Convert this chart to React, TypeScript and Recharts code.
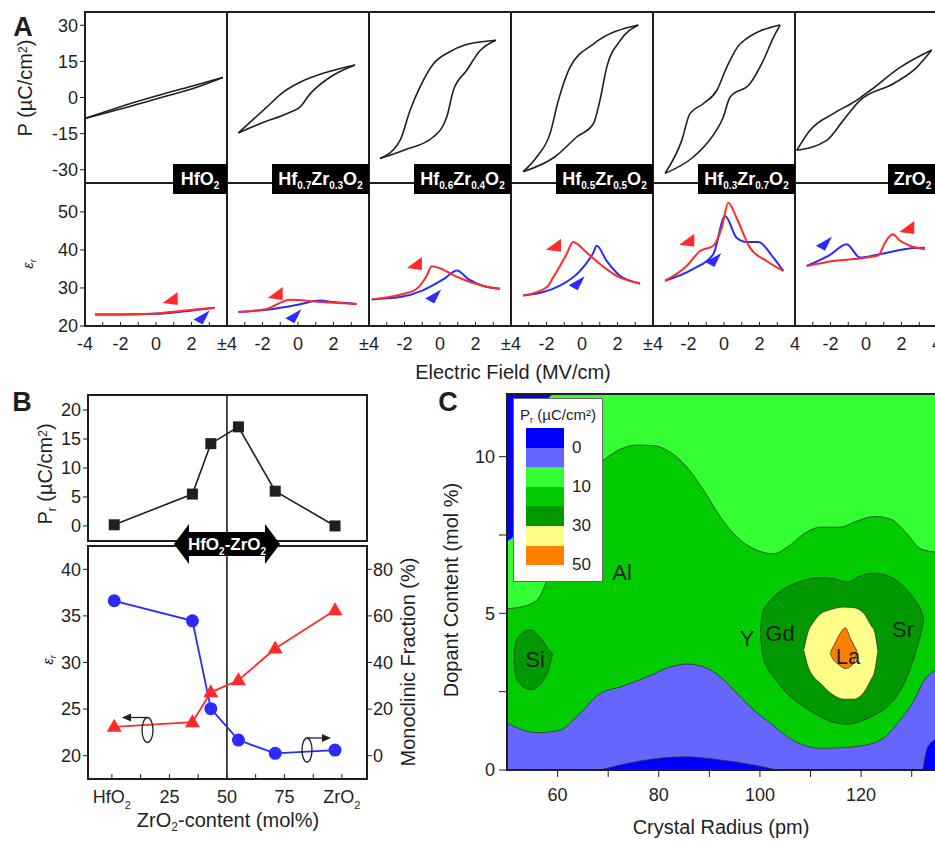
import React from "react";
import {
  LineChart,
  ComposedChart,
  Line,
  Area,
  Scatter,
  XAxis,
  YAxis,
  ReferenceLine,
} from "recharts";

document.body.style.margin = "0";

type Pt = [number, number];
type Band = [number, number, number];

const FONT = '"Liberation Sans", Arial, Helvetica, sans-serif';
const INK = "#1f1f1f";
const RED = "#ff2a2a";
const BLUE = "#2b2bff";

// ---- A, top: P-E loops, [E (MV/cm), P (µC/cm²)], both branches in rising E
const hfo2Up: Pt[] = [[-4, -8.7], [-2, -3.8], [0, 0.6], [2, 4.7], [3.77, 8.3]];
const hfo2Dn: Pt[] = [[-4, -8.7], [-2, -4.8], [0, -0.6], [2, 3.5], [3.77, 8.3]];
const hz73Up: Pt[] = [[-3.36, -14.7], [-1.76, -4.0], [-0.83, 2.2], [0.11, 6.3], [1.61, 10.5], [3.21, 13.5]];
const hz73Dn: Pt[] = [[-3.36, -14.7], [-2.14, -10.9], [-0.45, -6.1], [0.11, -4.0], [0.68, 1.5], [1.8, 8.4], [3.21, 13.5]];
const hz64Up: Pt[] = [[-3.38, -25.3], [-2.25, -17.8], [-1.69, -5.4], [-1.13, 4.3], [-0.38, 13.9], [0.5, 18.8], [1.4, 21.8], [3.15, 23.8]];
const hz64Dn: Pt[] = [[-3.38, -25.3], [-2.0, -21.8], [-0.38, -16.4], [0.38, -8.1], [0.75, 2.9], [1.5, 11.2], [2.25, 19.4], [3.15, 23.8]];
const hz55Up: Pt[] = [[-3.31, -30.8], [-2.55, -24.7], [-1.8, -15], [-1.33, -1.2], [-0.68, 12.5], [0.64, 22.2], [3.17, 30.1]];
const hz55Dn: Pt[] = [[-3.31, -30.8], [-1.5, -24.5], [-0.3, -16.4], [0.64, -10.9], [1.01, -1.2], [1.39, 12.5], [2.14, 23.5], [3.17, 30.1]];
const hz37Up: Pt[] = [[-3.32, -31.5], [-2.38, -17.8], [-1.92, -6.7], [-1.17, -2.6], [-0.41, 2.9], [0.15, 12.5], [0.9, 22.2], [3.16, 30.1]];
const hz37Dn: Pt[] = [[-3.32, -31.5], [-1.73, -24.7], [-0.97, -19.1], [-0.04, -8.1], [0.34, 0.1], [1.46, 5.7], [2.21, 15.3], [2.78, 24.9], [3.16, 30.1]];
const zro2Up: Pt[] = [[-3.9, -21.9], [-3.15, -13.6], [-1.84, -6.7], [-0.6, -1.5], [0.23, 2.9], [1.92, 12.5], [3.7, 19.7]];
const zro2Dn: Pt[] = [[-3.9, -21.9], [-2.21, -17.8], [-1.28, -9.5], [-0.34, -1.2], [1.54, 5.7], [2.86, 12.5], [3.7, 19.7]];

// ---- A, bottom: permittivity sweeps, [E, eps_r]
const hfo2Red: Pt[] = [[-3.44, 23.0], [-2, 23.0], [0, 23.3], [1.5, 24.0], [3.3, 24.8]];
const hfo2Blue: Pt[] = [[-3.44, 23.0], [-2, 23.0], [0, 23.2], [1.5, 23.8], [3.3, 24.8]];
const hz73Red: Pt[] = [[-3.36, 23.7], [-1.76, 24.5], [-0.45, 26.9], [1.05, 26.4], [3.3, 25.8]];
const hz73Blue: Pt[] = [[-3.36, 23.7], [-1.39, 24.5], [0, 25.6], [1.24, 26.7], [2.0, 26.3], [3.3, 25.8]];
const hz64Red: Pt[] = [[-3.85, 27.0], [-2.25, 28.2], [-1.31, 29.8], [-0.75, 33.2], [-0.47, 35.7], [0, 35.2], [0.75, 33.4], [1.5, 31.9], [2.4, 30.6], [3.38, 29.8]];
const hz64Blue: Pt[] = [[-3.85, 27.0], [-2.25, 27.6], [-1.0, 29.3], [0.2, 32.3], [0.96, 34.6], [1.6, 32.3], [2.4, 30.6], [3.38, 29.8]];
const hz55Red: Pt[] = [[-3.31, 28.0], [-1.99, 30.2], [-1.62, 32.8], [-0.87, 38.9], [-0.5, 42.1], [0.26, 39.3], [1.01, 36.3], [1.95, 33.2], [3.27, 31.2]];
const hz55Blue: Pt[] = [[-3.31, 28.0], [-1.24, 30.6], [-0.11, 34.5], [0.64, 39.3], [0.83, 41.1], [1.39, 37.1], [2.14, 33.2], [3.27, 31.2]];
const hz37Red: Pt[] = [[-3.32, 31.9], [-2.1, 35.8], [-1.35, 39.7], [-0.6, 41.1], [-0.13, 45.8], [0.24, 52.4], [0.71, 48.4], [1.46, 40.6], [2.4, 37.1], [3.34, 34.5]];
const hz37Blue: Pt[] = [[-3.32, 31.9], [-1.73, 35.0], [-0.6, 38.9], [0.06, 48.9], [0.71, 43.2], [1.27, 42.1], [1.93, 42.1], [2.78, 38.0], [3.34, 34.5]];
const zro2Red: Pt[] = [[-3.34, 35.8], [-1.84, 37.1], [0.04, 38.0], [0.7, 38.6], [1.07, 41.9], [1.5, 44.1], [1.92, 42.4], [2.48, 41.1], [3.32, 40.2]];
const zro2Blue: Pt[] = [[-3.34, 35.8], [-2.03, 38.7], [-1.09, 41.5], [-0.34, 38.0], [0.79, 38.9], [2.66, 40.5], [3.32, 40.6]];

// sweep-direction arrowheads, one per column
const redArrows: Pt[] = [[0.88, 27.1], [-1.2, 28.4], [-1.36, 36.3], [-1.52, 41.1], [-2.01, 42.4], [2.38, 45.8]];
const blueArrows: Pt[] = [[2.57, 22.5], [-0.26, 22.8], [-0.38, 28.0], [-0.3, 31.5], [-0.6, 37.6], [-2.37, 41.9]];

const E_TOP_TICKS = [-3, -2, -1, 0, 1, 2, 3];
const E_TICKS = [-4, -3, -2, -1, 0, 1, 2, 3, 4];
const E_END = ["±4", "±4", "±4", "±4", "4", "4"];
const P_TICKS = [-30, -15, 0, 15, 30];
const EPS_TICKS = [20, 30, 40, 50];

// ---- B: composition series
const COMP = [1, 35, 43, 55, 71, 97];
const PR = [0.2, 5.5, 14.2, 17.1, 6.0, 0];
const EPS_R = [23.1, 23.6, 26.8, 28.1, 31.5, 35.6];
const MONO = [66.5, 57.9, 20.2, 6.7, 1.0, 2.4];
const COMP_TICKS = [0, 12.5, 25, 37.5, 50, 62.5, 75, 87.5, 100];

// ---- C: contour map, [radius (pm), dopant mol%] or [radius, low, high]
const C_FIELD: Pt[] = [[50, 12], [135, 12]];
const C_GREEN: Pt[] = [
  [50, 5.15], [52.6, 5.2], [55.9, 5.42], [57.9, 6.05], [61, 7.6], [64, 8.9], [67, 9.6], [69.4, 9.93],
  [72.4, 10.24], [75.7, 10.37], [79, 10.35], [82.3, 10.14], [85.6, 9.66], [88.9, 8.92], [92.2, 8.07],
  [95.5, 7.43], [98.8, 7.06], [102.7, 6.9], [105.4, 7.11], [108.7, 7.54], [112, 7.75], [116, 7.75],
  [118.6, 7.91], [122.6, 8.09], [125.8, 8.01], [128.5, 7.64], [131.8, 7.06], [135, 6.95],
];
const C_VIOLET: Pt[] = [
  [50, 1.49], [55.9, 1.19], [60.5, 1.27], [63.8, 1.7], [68.4, 2.44], [72.4, 2.65], [77.7, 2.97],
  [82.3, 3.29], [85.6, 3.38], [88.9, 3.29], [92.2, 2.97], [95.5, 2.44], [98.8, 1.91], [102.1, 1.49],
  [105.4, 1.06], [108.7, 0.79], [112, 0.69], [118.6, 0.74], [123.9, 0.96], [127.2, 1.49], [130.5, 2.23],
  [132.5, 2.87], [135, 3.2],
];
const C_BLUE_FLOOR: Pt[] = [[68.4, 0], [75.7, 0.27], [85, 0.42], [92.2, 0.32], [98.8, 0.16], [103.4, 0]];
const C_BLUE_CORNER: Pt[] = [[132.2, 0], [133.2, 0.74], [135, 1.0]];
const C_BLUE_TOP: Band[] = [[50, 7.3, 12], [51.6, 7.55, 12], [52.5, 9.5, 12], [55, 11, 12], [59.1, 12, 12]];
const C_SI: Band[] = [
  [51.4, 3.55, 3.65], [51.7, 3.0, 4.05], [52.6, 2.75, 4.3], [53.5, 2.62, 4.43], [54.9, 2.57, 4.47],
  [56, 2.65, 4.32], [57.2, 2.87, 4.1], [58.2, 3.2, 3.85], [59, 3.7, 3.72],
];
const C_GD: Band[] = [
  [100.1, 4.3, 4.4], [100.5, 3.7, 5.0], [101.5, 3.25, 5.3], [102.7, 2.97, 5.52], [105.4, 2.44, 5.84],
  [108.7, 2.02, 6.05], [112, 1.7, 6.14], [114.6, 1.52, 6.1], [117.3, 1.46, 6.0], [119.9, 1.55, 6.2],
  [122.6, 1.75, 6.28], [125.2, 2.02, 6.2], [127.8, 2.55, 5.95], [130.5, 3.61, 5.45], [131.8, 4.35, 5.1],
  [132.4, 4.8, 4.82],
];
const C_YELLOW: Band[] = [
  [108.7, 3.8, 3.85], [109.5, 3.3, 4.4], [110.5, 3.0, 4.7], [112, 2.76, 4.99], [114, 2.45, 5.12],
  [116.6, 2.26, 5.2], [118.6, 2.26, 5.18], [120.6, 2.49, 4.99], [122, 2.9, 4.6], [122.6, 3.1, 4.45],
  [123.3, 3.77, 3.8],
];
const C_ORANGE: Band[] = [
  [113.9, 3.72, 3.75], [114.6, 3.5, 3.97], [115.3, 3.4, 4.2], [116.9, 3.24, 4.53], [117.9, 3.3, 4.19],
  [118.6, 3.45, 3.97], [119.2, 3.77, 3.8],
];
const C_X_TICKS = [60, 70, 80, 90, 100, 110, 120, 130];
const C_Y_TICKS = [0, 2.5, 5, 7.5, 10];
const LEGEND_COLORS = ["#0000ff", "#6666ff", "#33ff33", "#00cc00", "#009900", "#ffff88", "#ff8000"];
const LEGEND_MARKS: [string, number][] = [["0", 1], ["10", 3], ["30", 5], ["50", 7]];

const cols = [
  { up: hfo2Up, dn: hfo2Dn, red: hfo2Red, blue: hfo2Blue, name: [["HfO", "2"]], box: 54 },
  { up: hz73Up, dn: hz73Dn, red: hz73Red, blue: hz73Blue, name: [["Hf", "0.7"], ["Zr", "0.3"], ["O", "2"]], box: 97 },
  { up: hz64Up, dn: hz64Dn, red: hz64Red, blue: hz64Blue, name: [["Hf", "0.6"], ["Zr", "0.4"], ["O", "2"]], box: 97 },
  { up: hz55Up, dn: hz55Dn, red: hz55Red, blue: hz55Blue, name: [["Hf", "0.5"], ["Zr", "0.5"], ["O", "2"]], box: 97 },
  { up: hz37Up, dn: hz37Dn, red: hz37Red, blue: hz37Blue, name: [["Hf", "0.3"], ["Zr", "0.7"], ["O", "2"]], box: 97 },
  { up: zro2Up, dn: zro2Dn, red: zro2Red, blue: zro2Blue, name: [["ZrO", "2"]], box: 49 },
];

const COL_X = [85, 227, 369, 511, 653, 795, 937];
const COL_W = 142;
const NO_MARGIN = { top: 0, right: 0, bottom: 0, left: 0 };

const rows = (pts: Pt[]) => pts.map(([x, v]) => ({ x, v }));
const bands = (pts: Band[]) => pts.map(([x, lo, hi]) => ({ x, v: [lo, hi] }));
const series = (ys: number[]) => COMP.map((x, i) => ({ x, v: ys[i] }));

const tickFont = (size: number) => ({ fontSize: size, fill: INK });

const squareDot = (p: any) => (
  <rect key={`s${p.index}`} x={p.cx - 5.5} y={p.cy - 5.5} width={11} height={11} fill={INK} />
);
const triDot = (p: any) => (
  <polygon key={`t${p.index}`} points={`${p.cx},${p.cy - 8} ${p.cx - 7.5},${p.cy + 5} ${p.cx + 7.5},${p.cy + 5}`} fill={RED} />
);
const circDot = (p: any) => <circle key={`c${p.index}`} cx={p.cx} cy={p.cy} r={6.5} fill={BLUE} />;
const redHead = (p: any) => (
  <polygon points={`${p.cx - 9},${p.cy + 4} ${p.cx + 6},${p.cy - 7} ${p.cx + 6},${p.cy + 6}`} fill={RED} />
);
const blueHead = (p: any) => (
  <polygon points={`${p.cx + 8},${p.cy - 6} ${p.cx - 8},${p.cy + 3} ${p.cx + 1},${p.cy + 8}`} fill={BLUE} />
);

function LoopPanel({ i }: { i: number }) {
  const yw = i === 0 ? 45 : 0;
  return (
    <div style={{ position: "absolute", left: COL_X[i] - yw, top: 12 }}>
      <LineChart width={COL_W + yw} height={171} margin={NO_MARGIN}>
        <XAxis type="number" dataKey="x" domain={[-4, 4]} allowDataOverflow orientation="top" mirror
          ticks={E_TOP_TICKS} tick={false} axisLine={false} tickSize={4} stroke={INK} />
        <YAxis type="number" domain={[-35.5, 35.5]} allowDataOverflow ticks={P_TICKS} interval={0}
          hide={i !== 0} width={45} axisLine={false} tickSize={5} tickMargin={2} stroke={INK} tick={tickFont(18)} />
        <Line data={rows(cols[i].up)} dataKey="v" type="monotone" stroke={INK} strokeWidth={1.6} dot={false} isAnimationActive={false} />
        <Line data={rows(cols[i].dn)} dataKey="v" type="monotone" stroke={INK} strokeWidth={1.6} dot={false} isAnimationActive={false} />
      </LineChart>
    </div>
  );
}

function EpsPanel({ i }: { i: number }) {
  const yw = i === 0 ? 45 : 0;
  const pad = 16;
  const fmt = (v: number) =>
    v === -4 ? (i === 0 ? "-4" : "") : v === 4 ? E_END[i] : v % 2 === 0 ? String(v) : "";
  return (
    <div style={{ position: "absolute", left: COL_X[i] - yw - pad, top: 183 }}>
      <ComposedChart width={COL_W + yw + 2 * pad} height={173} margin={{ top: 0, right: pad, bottom: 0, left: pad }}>
        <XAxis type="number" dataKey="x" domain={[-4, 4]} allowDataOverflow ticks={E_TICKS} interval={0} height={30}
          tickFormatter={fmt} axisLine={false} tickSize={-4} tickMargin={15} stroke={INK} tick={tickFont(18)} />
        <YAxis type="number" domain={[20, 57.6]} allowDataOverflow ticks={EPS_TICKS} interval={0}
          hide={i !== 0} width={45} axisLine={false} tickSize={5} tickMargin={2} stroke={INK} tick={tickFont(18)} />
        <Line data={rows(cols[i].blue)} dataKey="v" type="monotone" stroke={BLUE} strokeWidth={2} dot={false} isAnimationActive={false} />
        <Line data={rows(cols[i].red)} dataKey="v" type="monotone" stroke={RED} strokeWidth={2} dot={false} isAnimationActive={false} />
        <Scatter data={rows([redArrows[i]])} dataKey="v" shape={redHead} isAnimationActive={false} />
        <Scatter data={rows([blueArrows[i]])} dataKey="v" shape={blueHead} isAnimationActive={false} />
      </ComposedChart>
    </div>
  );
}

function compTick(p: any) {
  const v = p.payload.value;
  const common = { x: p.x, y: p.y + 25, textAnchor: "middle" as const, fontSize: 18, fill: INK };
  if (v === 0 || v === 100) {
    return (
      <text {...common}>
        {v === 0 ? "HfO" : "ZrO"}
        <tspan dy={6} fontSize={11}>2</tspan>
      </text>
    );
  }
  if (v % 25 !== 0) return <g />;
  return <text {...common}>{v}</text>;
}

function PrPanel() {
  return (
    <div style={{ position: "absolute", left: 48, top: 395 }}>
      <LineChart width={319} height={146} margin={NO_MARGIN}>
        <XAxis type="number" dataKey="x" domain={[-10.4, 110.9]} allowDataOverflow orientation="top" mirror
          ticks={COMP_TICKS} tick={false} axisLine={false} tickSize={5} stroke={INK} />
        <YAxis type="number" domain={[-2.6, 22.6]} allowDataOverflow ticks={[0, 5, 10, 15, 20]} interval={0}
          width={40} axisLine={false} tickSize={5} tickMargin={2} stroke={INK} tick={tickFont(18)} />
        <ReferenceLine x={50} stroke={INK} strokeWidth={1.6} />
        <Line data={series(PR)} dataKey="v" type="linear" stroke={INK} strokeWidth={1.6} dot={squareDot} isAnimationActive={false} />
      </LineChart>
    </div>
  );
}

function EpsMonoPanel() {
  return (
    <div style={{ position: "absolute", left: 48, top: 546 }}>
      <ComposedChart width={359} height={273} margin={NO_MARGIN}>
        <XAxis type="number" dataKey="x" domain={[-10.4, 110.9]} allowDataOverflow ticks={COMP_TICKS} interval={0}
          height={40} tick={compTick} tickSize={-5} tickMargin={4} axisLine={false} stroke={INK} />
        <YAxis yAxisId="eps" type="number" domain={[17.5, 42.5]} allowDataOverflow ticks={[20, 25, 30, 35, 40]} interval={0}
          width={40} axisLine={false} tickSize={5} tickMargin={2} stroke={INK} tick={tickFont(18)} />
        <YAxis yAxisId="mono" orientation="right" type="number" domain={[-10, 90]} allowDataOverflow
          ticks={[0, 20, 40, 60, 80]} interval={0} width={40} axisLine={false} tickSize={5} tickMargin={1}
          stroke={INK} tick={tickFont(18)} />
        <ReferenceLine x={50} yAxisId="eps" stroke={INK} strokeWidth={1.6} />
        <Line yAxisId="mono" data={series(MONO)} dataKey="v" type="linear" stroke={BLUE} strokeWidth={1.8} dot={circDot} isAnimationActive={false} />
        <Line yAxisId="eps" data={series(EPS_R)} dataKey="v" type="linear" stroke={RED} strokeWidth={1.8} dot={triDot} isAnimationActive={false} />
      </ComposedChart>
    </div>
  );
}

function ContourPanel() {
  const edge = { stroke: "#333", strokeWidth: 0.8, fillOpacity: 1, isAnimationActive: false, type: "monotone" as const };
  return (
    <div style={{ position: "absolute", left: 467, top: 394 }}>
      <ComposedChart width={470} height={416} margin={NO_MARGIN}>
        <XAxis type="number" dataKey="x" domain={[50, 135]} allowDataOverflow ticks={C_X_TICKS} interval={0} height={40}
          tickFormatter={(v: number) => (v % 20 === 0 ? String(v) : "")} tickSize={7} tickMargin={11}
          axisLine={false} stroke={INK} tick={tickFont(18)} />
        <XAxis xAxisId="top" type="number" orientation="top" mirror domain={[50, 135]} allowDataOverflow
          ticks={C_X_TICKS} interval={0} tick={false} axisLine={false} tickSize={6} stroke={INK} />
        <YAxis type="number" domain={[0, 12]} allowDataOverflow ticks={C_Y_TICKS} interval={0} width={40}
          tickFormatter={(v: number) => (v % 5 === 0 ? String(v) : "")} tickSize={8} tickMargin={4}
          axisLine={false} stroke={INK} tick={tickFont(18)} />
        <Area data={rows(C_FIELD)} dataKey="v" {...edge} stroke="none" fill="#33ff33" />
        <Area data={rows(C_GREEN)} dataKey="v" {...edge} fill="#00cc00" />
        <Area data={rows(C_VIOLET)} dataKey="v" {...edge} fill="#6666ff" />
        <Area data={rows(C_BLUE_FLOOR)} dataKey="v" {...edge} fill="#0000ff" />
        <Area data={rows(C_BLUE_CORNER)} dataKey="v" {...edge} fill="#0000ff" />
        <Area data={bands(C_BLUE_TOP)} dataKey="v" {...edge} stroke="none" fill="#0000ff" />
        <Area data={bands(C_SI)} dataKey="v" {...edge} fill="#009900" />
        <Area data={bands(C_GD)} dataKey="v" {...edge} fill="#009900" />
        <Area data={bands(C_YELLOW)} dataKey="v" {...edge} fill="#ffff88" />
        <Area data={bands(C_ORANGE)} dataKey="v" {...edge} fill="#ff8000" />
      </ComposedChart>
    </div>
  );
}

function Frames() {
  const s = { fill: "none", stroke: INK, strokeWidth: 2 };
  return (
    <svg width={935} height={842} style={{ position: "absolute", left: 0, top: 0, pointerEvents: "none" }}>
      <rect x={85} y={12} width={852} height={314} {...s} />
      <line x1={85} x2={937} y1={183} y2={183} {...s} />
      {COL_X.slice(1, 6).map((x) => (
        <line key={x} x1={x} x2={x} y1={12} y2={326} {...s} />
      ))}
      <rect x={88} y={395} width={279} height={146} {...s} />
      <rect x={88} y={546} width={279} height={233} {...s} />
      <rect x={507} y={394} width={435} height={376} {...s} />
      {/* HfO2-ZrO2 double arrow */}
      <polygon
        points="174,544 189,524 189,532 265,532 265,524 280,544 265,564 265,556 189,556 189,564"
        fill="#000"
      />
      <text x={227} y={550} textAnchor="middle" fill="#fff" fontWeight={700} fontSize={17}>
        HfO<tspan dy={5} fontSize={10}>2</tspan>
        <tspan dy={-5}>-ZrO</tspan>
        <tspan dy={5} fontSize={10}>2</tspan>
      </text>
      {/* axis-assignment arrows */}
      <ellipse cx={147.5} cy={730} rx={5.5} ry={12.5} fill="none" stroke={INK} strokeWidth={1.3} />
      <line x1={147} x2={130} y1={717.5} y2={717.5} stroke={INK} strokeWidth={1.3} />
      <polygon points="122,717.5 131,713.5 131,721.5" fill={INK} />
      <ellipse cx={307} cy={750} rx={5} ry={12} fill="none" stroke={INK} strokeWidth={1.3} />
      <line x1={307} x2={323} y1={738} y2={738} stroke={INK} strokeWidth={1.3} />
      <polygon points="331,738 322,734 322,742" fill={INK} />
    </svg>
  );
}

function T({
  x, y, size = 20, rot = 0, bold = false, italic = false, children,
}: {
  x: number; y: number; size?: number; rot?: number; bold?: boolean; italic?: boolean; children: React.ReactNode;
}) {
  return (
    <div
      style={{
        position: "absolute",
        left: x,
        top: y,
        transform: `translate(-50%, -50%) rotate(${rot}deg)`,
        fontSize: size,
        fontWeight: bold ? 700 : 400,
        fontStyle: italic ? "italic" : "normal",
        whiteSpace: "nowrap",
        lineHeight: 1,
        color: INK,
      }}
    >
      {children}
    </div>
  );
}

const Sub = ({ children, size = "0.6em" }: { children: React.ReactNode; size?: string }) => (
  <span style={{ fontSize: size, position: "relative", top: "0.35em" }}>{children}</span>
);
const Sup = ({ children }: { children: React.ReactNode }) => (
  <span style={{ fontSize: "0.6em", position: "relative", top: "-0.45em" }}>{children}</span>
);

function Formula({ i }: { i: number }) {
  const c = cols[i];
  return (
    <div
      style={{
        position: "absolute",
        left: COL_X[i + 1] - c.box,
        top: 164,
        width: c.box,
        height: 30,
        background: "#000",
        color: "#fff",
        fontWeight: 700,
        fontSize: 18,
        display: "flex",
        alignItems: "center",
        justifyContent: "center",
        lineHeight: 1,
      }}
    >
      {c.name.map(([m, s], k) => (
        <React.Fragment key={k}>
          {m}
          <span style={{ fontSize: 10, position: "relative", top: 7 }}>{s}</span>
        </React.Fragment>
      ))}
    </div>
  );
}

function Legend() {
  return (
    <div
      style={{
        position: "absolute",
        left: 513,
        top: 398,
        width: 90,
        height: 184,
        background: "#fff",
        border: "1px solid #666",
        boxSizing: "border-box",
      }}
    >
      <div style={{ position: "absolute", left: 0, width: 88, top: 7, textAlign: "center", fontSize: 15, whiteSpace: "nowrap" }}>
        P<Sub>r</Sub> (µC/cm²)
      </div>
      {LEGEND_COLORS.map((c, k) => (
        <div key={c} style={{ position: "absolute", left: 12, top: 29 + k * 19.6, width: 38, height: 19.6, background: c }} />
      ))}
      {LEGEND_MARKS.map(([t, k]) => (
        <div key={t} style={{ position: "absolute", left: 58, top: 29 + k * 19.6 - 9, fontSize: 17, lineHeight: 1 }}>
          {t}
        </div>
      ))}
    </div>
  );
}

export default function App() {
  return (
    <div
      style={{
        position: "relative",
        width: 935,
        height: 842,
        overflow: "hidden",
        background: "#fff",
        fontFamily: FONT,
        color: INK,
      }}
    >
      {cols.map((_, i) => (
        <LoopPanel key={`l${i}`} i={i} />
      ))}
      {cols.map((_, i) => (
        <EpsPanel key={`e${i}`} i={i} />
      ))}
      <PrPanel />
      <EpsMonoPanel />
      <ContourPanel />
      <Frames />
      {cols.map((_, i) => (
        <Formula key={`f${i}`} i={i} />
      ))}
      <Legend />

      <T x={23} y={27} size={27} bold>A</T>
      <T x={25} y={88} rot={-90}>P (µC/cm<Sup>2</Sup>)</T>
      <T x={27} y={264} rot={-90} size={15} italic>ε<Sub>r</Sub></T>
      <T x={513} y={372}>Electric Field (MV/cm)</T>

      <T x={22} y={402} size={27} bold>B</T>
      <T x={45} y={474} rot={-90}>P<Sub>r</Sub> (µC/cm<Sup>2</Sup>)</T>
      <T x={47} y={660} rot={-90} size={15} italic>ε<Sub>r</Sub></T>
      <T x={408} y={662} rot={-90}>Monoclinic Fraction (%)</T>
      <T x={228} y={820}>ZrO<Sub>2</Sub>-content (mol%)</T>

      <T x={448} y={402} size={27} bold>C</T>
      <T x={451} y={590} rot={-90}>Dopant Content (mol %)</T>
      <T x={721} y={827}>Crystal Radius (pm)</T>
      <T x={622} y={573} size={22}>Al</T>
      <T x={535} y={660} size={22}>Si</T>
      <T x={747} y={639} size={22}>Y</T>
      <T x={780} y={634} size={22}>Gd</T>
      <T x={848} y={657} size={22}>La</T>
      <T x={903} y={630} size={22}>Sr</T>
    </div>
  );
}
